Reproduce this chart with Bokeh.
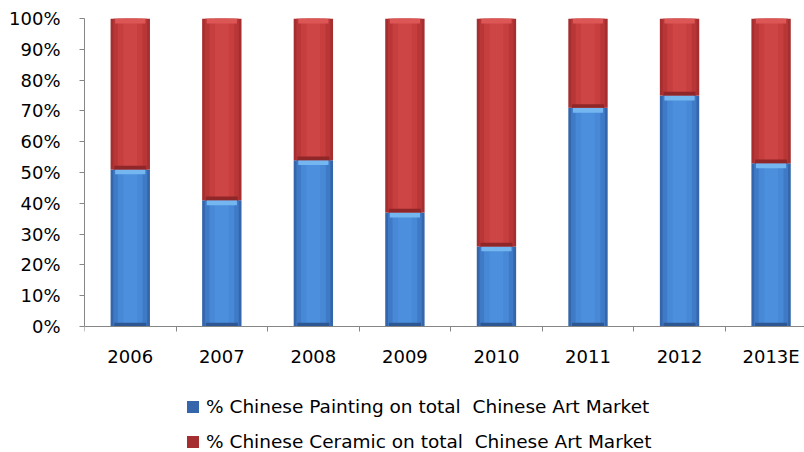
from bokeh.plotting import figure
from bokeh.models import (Range1d, FixedTicker, NumeralTickFormatter, Legend,
                          LegendItem, ColumnDataSource)
from bokeh.embed import file_html
from bokeh.resources import INLINE

# ---- data ----
years = ["2006", "2007", "2008", "2009", "2010", "2011", "2012", "2013E"]
painting = [0.51, 0.41, 0.54, 0.37, 0.26, 0.71, 0.75, 0.53]
ceramic = [round(1 - v, 2) for v in painting]
y_ticks = [0, 0.1, 0.2, 0.3, 0.4, 0.5, 0.6, 0.7, 0.8, 0.9, 1.0]
series_names = ["% Chinese Painting on total  Chinese Art Market",
                "% Chinese Ceramic on total  Chinese Art Market"]

n = len(years)
centers = [i + 0.5 for i in range(n)]
bounds = list(range(n + 1))
tops_c = [p + c for p, c in zip(painting, ceramic)]

src = ColumnDataSource(dict(x=centers, p=painting, c=ceramic, tc=tops_c,
                            zero=[0] * n))

FONT = "DejaVu Sans"
AX = "#868686"

p = figure(width=804, height=452, output_backend="svg", toolbar_location=None,
           x_range=Range1d(0, 7.865), y_range=Range1d(-0.409, 1),
           min_border_left=84, min_border_right=0, min_border_top=18,
           min_border_bottom=0)
p.outline_line_color = None
p.grid.grid_line_color = None
p.background_fill_color = "white"

BW = 0.43
blue_layers = [(BW, "#3566ab"), (0.37, "#3f7ac6"), (0.27, "#4789d6"), (0.15, "#4c8fdc")]
red_layers = [(BW, "#a52e30"), (0.37, "#b93637"), (0.27, "#c63e3e"), (0.15, "#ce4545")]

main_blue = None
main_red = None
for w, col in blue_layers:
    r = p.vbar(x="x", bottom="zero", top="p", width=w, source=src,
               fill_color=col, line_color=None)
    if main_blue is None:
        main_blue = r
for w, col in red_layers:
    r = p.vbar(x="x", bottom="p", top="tc", width=w, source=src,
               fill_color=col, line_color=None)
    if main_red is None:
        main_red = r

# bevel highlights / shadows
hl = ColumnDataSource(dict(x=centers,
                           bt=[v - 0.016 for v in painting], tt=painting,
                           rb=[v - 0.016 for v in tops_c], rt=tops_c,
                           bb=[0.0] * n, bbt=[0.012] * n,
                           rbb=painting, rbt=[v + 0.012 for v in painting]))
p.vbar(x="x", bottom="bt", top="tt", width=0.33, source=hl,
       fill_color="#74b6f0", line_color=None)
p.vbar(x="x", bottom="rb", top="rt", width=0.33, source=hl,
       fill_color="#dd5656", line_color=None)
p.vbar(x="x", bottom="bb", top="bbt", width=0.35, source=hl,
       fill_color="#2c5792", line_color=None)
p.vbar(x="x", bottom="rbb", top="rbt", width=0.35, source=hl,
       fill_color="#8f2729", line_color=None)

# ---- axes ----
xa = p.xaxis[0]
xa.fixed_location = 0
xa.ticker = FixedTicker(ticks=centers, minor_ticks=bounds)
xa.major_label_overrides = {c: y for c, y in zip(centers, years)}
xa.major_tick_out = 0
xa.major_tick_in = 0
xa.minor_tick_out = 5
xa.minor_tick_in = 0
xa.minor_tick_line_color = AX
xa.axis_line_color = AX
xa.major_label_text_font = FONT
xa.major_label_text_font_size = "18px"
xa.major_label_text_color = "#000000"
xa.major_label_standoff = 14

ya = p.yaxis[0]
ya.bounds = (0, 1)
ya.ticker = FixedTicker(ticks=y_ticks)
ya.formatter = NumeralTickFormatter(format="0%")
ya.major_tick_out = 5
ya.major_tick_in = 0
ya.minor_tick_line_color = None
ya.major_tick_line_color = AX
ya.axis_line_color = AX
ya.major_label_text_font = FONT
ya.major_label_text_font_size = "18px"
ya.major_label_text_color = "#000000"
ya.major_label_standoff = 19

legend = Legend(items=[LegendItem(label=series_names[0], renderers=[main_blue]),
                       LegendItem(label=series_names[1], renderers=[main_red])],
                location=(101, 0), orientation="vertical",
                glyph_width=15, glyph_height=15, label_height=20,
                label_standoff=6, spacing=14, padding=0, margin=0,
                label_text_font=FONT, label_text_font_size="18.5px",
                label_text_color="#000000",
                border_line_alpha=0, background_fill_alpha=0)
p.add_layout(legend, "center")

open("out.html", "w").write(file_html(p, INLINE))
